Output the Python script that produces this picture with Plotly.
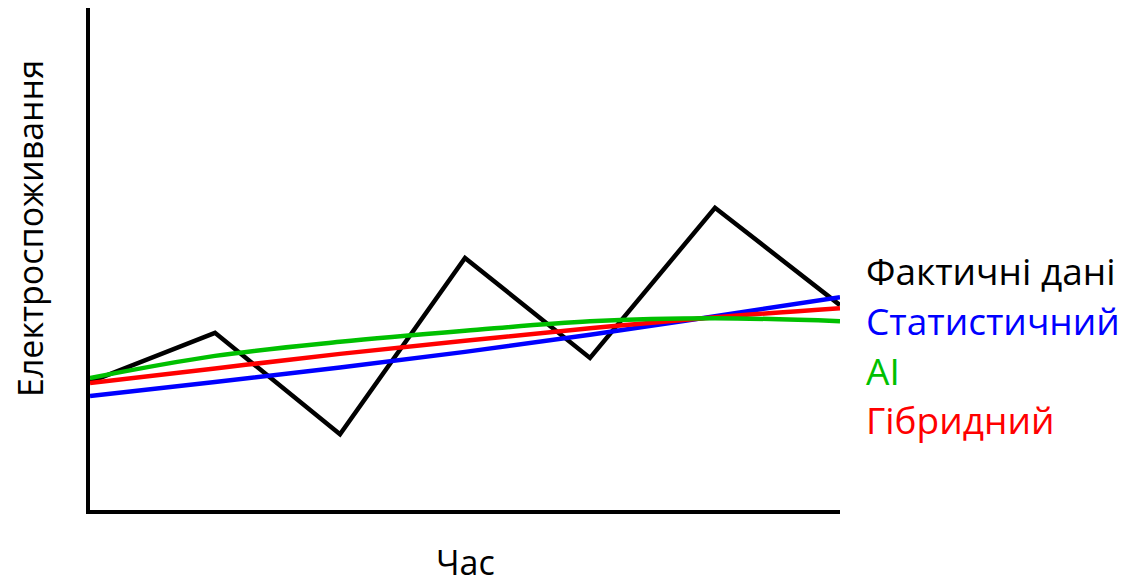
import plotly.graph_objects as go

time_idx = [0, 1, 2, 3, 4, 5, 6]
actual = [2.55, 3.53, 1.51, 5.02, 3.03, 6.02, 4.08]
statistical = [2.27, 2.55, 2.84, 3.15, 3.49, 3.86, 4.24]
ai_model = [2.63, 3.07, 3.35, 3.57, 3.76, 3.82, 3.76]
hybrid = [2.53, 2.82, 3.11, 3.37, 3.62, 3.84, 4.02]

labels = ["Фактичні дані", "Статистичний", "AI", "Гібридний"]
colors = ["#000000", "#0000ff", "#00c000", "#ff0000"]

FONT = "Open Sans"
OFF = 8  # page body offset

L, R_EDGE, TOP, BOT = 90 - OFF, 840 - OFF, 8 - OFF, 510 - OFF
W, H = 1128 - OFF, 587 - OFF
PW, PH = R_EDGE - L, BOT - TOP

def px(x):
    return (x - OFF - L) / PW

def py(y):
    return (BOT - (y - OFF)) / PH

fig = go.Figure()
fig.add_trace(go.Scatter(x=time_idx, y=actual, mode="lines",
                         line=dict(color=colors[0], width=4.5), name=labels[0]))
fig.add_trace(go.Scatter(x=time_idx, y=statistical, mode="lines",
                         line=dict(color=colors[1], width=4.5, shape="spline"), name=labels[1]))
fig.add_trace(go.Scatter(x=time_idx, y=hybrid, mode="lines",
                         line=dict(color=colors[3], width=4.5, shape="spline"), name=labels[3]))
fig.add_trace(go.Scatter(x=time_idx, y=ai_model, mode="lines",
                         line=dict(color=colors[2], width=4.5, shape="spline"), name=labels[2]))

annotations = []
for i, (lab, col) in enumerate(zip(labels, colors)):
    annotations.append(dict(xref="paper", yref="paper", x=px(864), y=py(270 + 50 * i),
                            xanchor="left", yanchor="middle", text=lab, showarrow=False,
                            font=dict(family=FONT, size=37, color=col)))
annotations.append(dict(xref="paper", yref="paper", x=px(30), y=py(229),
                        xanchor="center", yanchor="middle", text="Електроспоживання",
                        textangle=-90, showarrow=False,
                        font=dict(family=FONT, size=34, color="#000000")))
annotations.append(dict(xref="paper", yref="paper", x=0.5, y=py(562),
                        xanchor="center", yanchor="middle", text="Час", showarrow=False,
                        font=dict(family=FONT, size=34, color="#000000")))

fig.update_layout(
    width=W, height=H,
    margin=dict(l=L, r=W - R_EDGE, t=TOP, b=H - BOT),
    paper_bgcolor="white", plot_bgcolor="white",
    showlegend=False,
    annotations=annotations,
    xaxis=dict(range=[0, 6], showgrid=False, zeroline=False, showticklabels=False,
               ticks="", showline=True, linecolor="black", linewidth=4),
    yaxis=dict(range=[0, 10], showgrid=False, zeroline=False, showticklabels=False,
               ticks="", showline=True, linecolor="black", linewidth=4),
)

fig.write_html("out.html")
